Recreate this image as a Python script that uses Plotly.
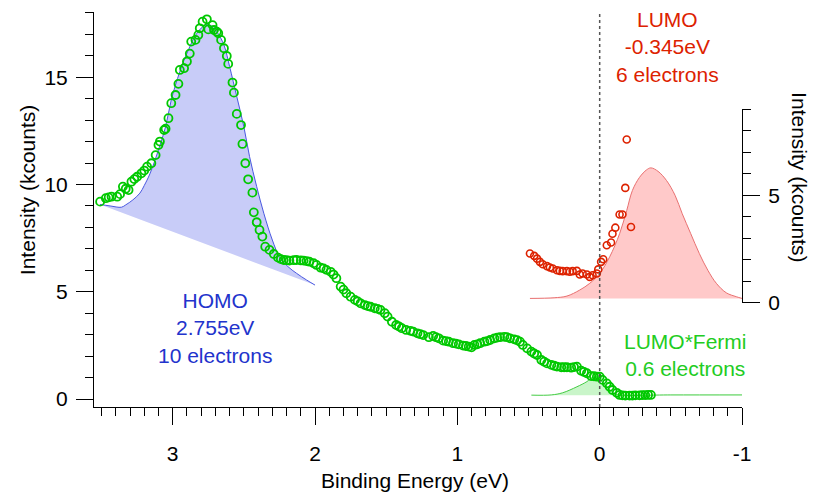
import plotly.graph_objects as go

# ---------------- data (binding energy in eV, intensity in kcounts) ----------------
DATA_E = [3.51, 3.47, 3.45, 3.43, 3.39, 3.37, 3.35, 3.33, 3.31, 3.29, 3.27, 3.25, 3.22, 3.20,
          3.18, 3.15, 3.12, 3.10, 3.09, 3.06, 3.05, 3.03, 3.01, 2.98, 2.96, 2.95, 2.92, 2.90,
          2.88, 2.87, 2.84, 2.82, 2.81, 2.79, 2.76, 2.75, 2.72, 2.71, 2.69, 2.68, 2.66, 2.64,
          2.62, 2.61, 2.58, 2.57, 2.55, 2.52, 2.51, 2.49, 2.47, 2.44, 2.43, 2.41, 2.39, 2.37,
          2.35, 2.32, 2.29, 2.26, 2.24, 2.22, 2.20, 2.18, 2.15, 2.13, 2.10, 2.08, 2.06, 2.04,
          2.01, 1.99, 1.96, 1.94, 1.92, 1.89, 1.87, 1.85, 1.82, 1.80, 1.78, 1.75, 1.72, 1.70,
          1.68, 1.65, 1.63, 1.61, 1.58, 1.56, 1.54, 1.51, 1.49, 1.46, 1.43, 1.41, 1.39, 1.36,
          1.33, 1.31, 1.28, 1.26, 1.24, 1.20, 1.17, 1.15, 1.13, 1.10, 1.08, 1.06, 1.03, 1.01,
          0.99, 0.96, 0.94, 0.92, 0.90, 0.88, 0.86, 0.84, 0.81, 0.79, 0.77, 0.74, 0.72, 0.70,
          0.67, 0.65, 0.63, 0.60, 0.58, 0.56, 0.54, 0.51, 0.48, 0.46, 0.44, 0.41, 0.39, 0.37,
          0.34, 0.32, 0.30, 0.27, 0.25, 0.23, 0.20, 0.18, 0.16, 0.13, 0.11, 0.09, 0.06, 0.04,
          0.02, 0.00, -0.02, -0.05, -0.07, -0.09, -0.12, -0.14, -0.16, -0.18, -0.21, -0.23,
          -0.25, -0.28, -0.30, -0.32, -0.34, -0.36]
DATA_I = [9.20, 9.36, 9.40, 9.43, 9.43, 9.55, 9.90, 9.80, 9.74, 10.13, 10.25, 10.36, 10.52, 10.65,
          10.83, 10.99, 11.37, 11.84, 12.00, 12.54, 12.60, 13.09, 13.79, 14.17, 14.69, 15.34, 15.42, 15.73,
          16.10, 16.66, 16.74, 16.97, 17.28, 17.59, 17.70, 17.23, 17.43, 17.20, 17.12, 17.05, 16.74, 16.35,
          15.99, 15.62, 14.75, 14.28, 13.29, 12.77, 11.89, 10.99, 10.24, 9.62, 8.70, 8.24, 7.88, 7.57,
          7.10, 6.95, 6.76, 6.59, 6.52, 6.48, 6.47, 6.45, 6.47, 6.48, 6.46, 6.45, 6.43, 6.40,
          6.33, 6.25, 6.12, 6.09, 6.02, 5.93, 5.80, 5.63, 5.24, 5.10, 4.93, 4.77, 4.62, 4.55,
          4.46, 4.38, 4.33, 4.30, 4.23, 4.20, 4.15, 4.00, 3.84, 3.60, 3.45, 3.38, 3.30, 3.22,
          3.18, 3.14, 3.06, 3.02, 2.98, 2.88, 2.94, 2.88, 2.83, 2.72, 2.70, 2.67, 2.60, 2.58,
          2.55, 2.49, 2.47, 2.44, 2.41, 2.52, 2.55, 2.60, 2.67, 2.70, 2.75, 2.83, 2.86, 2.88,
          2.90, 2.88, 2.83, 2.78, 2.74, 2.67, 2.52, 2.36, 2.21, 2.12, 2.05, 1.82, 1.74, 1.66,
          1.59, 1.55, 1.51, 1.48, 1.48, 1.48, 1.46, 1.49, 1.51, 1.32, 1.26, 1.20, 1.07, 1.06,
          1.04, 1.04, 0.89, 0.73, 0.57, 0.42, 0.29, 0.19, 0.17, 0.16, 0.16, 0.16,
          0.17, 0.17, 0.18, 0.18, 0.19, 0.19]

# HOMO fit (blue) and its linear background
HOMO_E = [3.51, 3.44, 3.36, 3.33, 3.28, 3.23, 3.20, 3.16, 3.10, 3.05, 3.01, 2.95, 2.89, 2.83,
          2.77, 2.74, 2.69, 2.64, 2.60, 2.55, 2.50, 2.46, 2.41, 2.36, 2.30, 2.25, 2.19, 2.13,
          2.06, 2.00]
HOMO_I = [9.07, 9.00, 8.94, 9.05, 9.28, 9.60, 9.95, 10.50, 11.61, 12.69, 13.94, 15.26, 16.27, 17.05,
          17.44, 17.44, 17.12, 16.50, 15.49, 14.10, 12.69, 11.30, 9.90, 8.66, 7.41, 6.63, 6.17, 5.86,
          5.55, 5.31]
HOMO_BG_E = [3.51, 2.00]
HOMO_BG_I = [9.07, 5.31]

# LUMO*Fermi fit (green, left axis)
LF_E = [0.48, 0.34, 0.26, 0.16, 0.09, 0.05, 0.02, 0.00, -0.03, -0.07, -0.10, -0.13, -0.50, -1.00]
LF_I = [0.18, 0.19, 0.29, 0.57, 0.81, 1.01, 1.03, 0.92, 0.70, 0.42, 0.25, 0.19, 0.19, 0.19]
LF_BG_E = [0.48, -1.00]
LF_BG_I = [0.18, 0.18]

# LUMO data (red, right axis)
LUMO_DATA_E = [0.49, 0.46, 0.44, 0.42, 0.40, 0.37, 0.35, 0.33, 0.30, 0.28, 0.26, 0.23, 0.21, 0.19,
               0.16, 0.14, 0.12, 0.09, 0.07, 0.05, 0.02, 0.01, -0.01, -0.025, -0.05, -0.08, -0.09,
               -0.11, -0.14, -0.16, -0.18, -0.19, -0.22]
LUMO_DATA_I = [2.29, 2.18, 2.05, 1.90, 1.79, 1.70, 1.64, 1.59, 1.51, 1.48, 1.47, 1.47, 1.44, 1.47,
               1.48, 1.31, 1.36, 1.31, 1.20, 1.28, 1.36, 1.55, 1.90, 2.02, 2.67, 2.80, 3.21,
               3.49, 4.10, 4.10, 5.34, 7.59, 3.52]

# LUMO fit (red, right axis)
LUMO_FIT_E = [0.49, 0.32, 0.23, 0.14, 0.07, 0.00, -0.07, -0.14, -0.19, -0.23, -0.28, -0.33, -0.36,
              -0.41, -0.47, -0.53, -0.58, -0.64, -0.70, -0.76, -0.82, -0.89, -0.96, -1.00]
LUMO_FIT_I = [0.20, 0.23, 0.31, 0.59, 0.90, 1.36, 2.13, 3.21, 4.29, 5.22, 5.83, 6.18, 6.27,
              6.11, 5.68, 4.99, 4.14, 3.21, 2.29, 1.51, 0.90, 0.46, 0.28, 0.20]
LUMO_BG_E = [0.49, -1.00]
LUMO_BG_I = [0.20, 0.20]

X_TICKS = [3, 2, 1, 0, -1]
X_TICK_TEXT = ["3", "2", "1", "0", "-1"]
Y_TICKS = [0, 5, 10, 15]
Y2_TICKS = [0, 5]

FONT = "Liberation Sans, Arial, sans-serif"
BLUE = "#2233cc"
RED = "#dd2200"
GREEN = "#22cc22"
FS = 21

fig = go.Figure()

# HOMO fill
fig.add_trace(go.Scatter(x=HOMO_BG_E, y=HOMO_BG_I, mode="lines",
                         line=dict(width=0, color="rgba(0,0,0,0)"), hoverinfo="skip"))
fig.add_trace(go.Scatter(x=HOMO_E, y=HOMO_I, mode="lines", fill="tonexty",
                         fillcolor="#c8ccf8", line=dict(color="#4a58e0", width=1, shape="spline")))

# LUMO*Fermi fill
fig.add_trace(go.Scatter(x=LF_BG_E, y=LF_BG_I, mode="lines",
                         line=dict(width=0, color="rgba(0,0,0,0)"), hoverinfo="skip"))
fig.add_trace(go.Scatter(x=LF_E, y=LF_I, mode="lines", fill="tonexty",
                         fillcolor="#c9f5c9", line=dict(color="#44cc44", width=1, shape="spline")))

# LUMO fill (right axis)
fig.add_trace(go.Scatter(x=LUMO_BG_E, y=LUMO_BG_I, mode="lines", yaxis="y2",
                         line=dict(width=0, color="rgba(0,0,0,0)"), hoverinfo="skip"))
fig.add_trace(go.Scatter(x=LUMO_FIT_E, y=LUMO_FIT_I, mode="lines", fill="tonexty", yaxis="y2",
                         fillcolor="#ffc9c9", line=dict(color="#e87070", width=1, shape="spline")))

# LUMO data (right axis)
fig.add_trace(go.Scatter(x=LUMO_DATA_E, y=LUMO_DATA_I, mode="markers", yaxis="y2",
                         marker=dict(symbol="circle-open", size=7, color=RED,
                                     line=dict(width=1.6, color=RED))))

# main data
fig.add_trace(go.Scatter(x=DATA_E, y=DATA_I, mode="markers",
                         marker=dict(symbol="circle-open", size=8, color="#00c800",
                                     line=dict(width=1.8, color="#00c800"))))

axis_common = dict(showline=True, linecolor="black", linewidth=1, ticks="outside",
                   ticklen=17, tickwidth=1, tickcolor="black", showgrid=False, zeroline=False,
                   tickfont=dict(family=FONT, size=FS, color="black"))

fig.update_layout(
    width=814, height=493, autosize=False,
    margin=dict(l=94, r=72, t=12, b=86),
    paper_bgcolor="white", plot_bgcolor="rgba(0,0,0,0)",
    showlegend=False,
    font=dict(family=FONT, size=FS, color="black"),
    xaxis=dict(range=[3.553, -1.0], tickmode="array", tickvals=X_TICKS, ticktext=X_TICK_TEXT,
               ticklabelstandoff=11, anchor="y",
               minor=dict(tickmode="linear", tick0=0, dtick=0.1, ticks="outside", ticklen=8,
                          tickwidth=1, tickcolor="black", showgrid=False),
               **axis_common),
    yaxis=dict(range=[-0.373, 18.04], tickmode="array", tickvals=Y_TICKS, ticklabelstandoff=4,
               minor=dict(tickmode="linear", tick0=0, dtick=1, ticks="outside", ticklen=8,
                          tickwidth=1, tickcolor="black", showgrid=False),
               **axis_common),
    yaxis2=dict(domain=[0.264, 0.754], range=[0, 9], anchor="x", side="right",
                tickmode="array", tickvals=Y2_TICKS, ticklabelstandoff=4,
                minor=dict(tickmode="linear", tick0=0, dtick=1, ticks="outside", ticklen=8,
                           tickwidth=1, tickcolor="black", showgrid=False),
                **axis_common),
)

# Fermi level dotted line
fig.add_shape(type="line", xref="x", yref="paper", x0=0, x1=0, y0=0, y1=1,
              line=dict(color="#555555", width=1.5, dash="dot"))

ann_font = dict(family=FONT, size=FS)
fig.add_annotation(text="LUMO<br>-0.345eV<br>6 electrons", xref="x", yref="paper",
                   x=-0.474, y=0.911, showarrow=False, xanchor="center", yanchor="middle",
                   font=dict(color=RED, **ann_font))
fig.add_annotation(text="HOMO<br>2.755eV<br>10 electrons", xref="x", yref="paper",
                   x=2.706, y=0.2, showarrow=False, xanchor="center", yanchor="middle",
                   font=dict(color=BLUE, **ann_font))
fig.add_annotation(text="LUMO*Fermi<br>0.6 electrons", xref="x", yref="paper",
                   x=-0.6, y=0.1316, showarrow=False, xanchor="center", yanchor="middle",
                   font=dict(color=GREEN, **ann_font))

# axis titles
fig.add_annotation(text="Binding Energy (eV)", xref="paper", yref="paper",
                   x=0.495, y=-0.185, showarrow=False, xanchor="center", yanchor="middle",
                   font=dict(color="black", **ann_font))
fig.add_annotation(text="Intensity (kcounts)", xref="paper", yref="paper",
                   x=-0.1034, y=0.549, showarrow=False, xanchor="center", yanchor="middle",
                   textangle=-90, font=dict(color="black", **ann_font))
fig.add_annotation(text="Intensity (kcounts)", xref="paper", yref="paper",
                   x=1.0895, y=0.582, showarrow=False, xanchor="center", yanchor="middle",
                   textangle=90, font=dict(color="black", **ann_font))

fig.write_html("out.html")
